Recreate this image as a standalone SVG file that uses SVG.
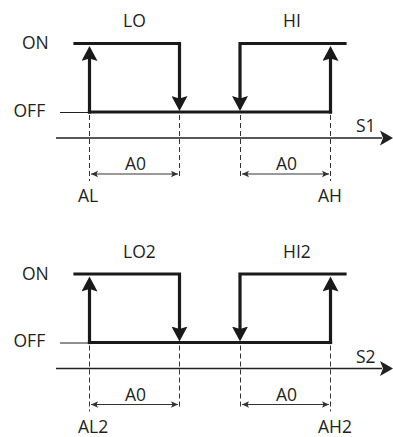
<svg xmlns="http://www.w3.org/2000/svg" width="393" height="437" viewBox="0 0 393 437">
  <style>
    .bg { fill: #ffffff; }
    .lbl { font-family: "Open Sans", "Liberation Sans", sans-serif; font-size: 17.5px; fill: #231f20; }
    .sig { fill: none; stroke: #1a1a1a; stroke-width: 3.2; stroke-linecap: square; stroke-linejoin: miter; }
    .thin { fill: none; stroke: #231f20; stroke-width: 1; }
    .axis { fill: none; stroke: #231f20; stroke-width: 1.5; }
    .dash { fill: none; stroke: #333333; stroke-width: 1; stroke-dasharray: 5 3; }
    .dim { fill: none; stroke: #333333; stroke-width: 1; }
  </style>
  <defs>
    <marker id="bigArrow" markerUnits="userSpaceOnUse" viewBox="0 -8 16 16" markerWidth="16" markerHeight="16" refX="5" refY="0" orient="auto">
      <path d="M0,-8 L15,0 L0,8 L2.5,0 Z" fill="#1a1a1a"/>
    </marker>
    <marker id="axisArrow" markerUnits="userSpaceOnUse" viewBox="0 -8 14 16" markerWidth="14" markerHeight="16" refX="2" refY="0" orient="auto">
      <path d="M0,-7.5 L13,0 L0,7.5 L3,0 Z" fill="#231f20"/>
    </marker>
    <marker id="dimArrow" markerUnits="userSpaceOnUse" viewBox="0 -4 8 8" markerWidth="8" markerHeight="8" refX="7" refY="0" orient="auto-start-reverse">
      <path d="M0,-3.2 L7,0 L0,3.2 L1.5,0 Z" fill="#333333"/>
    </marker>
  </defs>
  <rect class="bg" x="0" y="0" width="393" height="437"/>

  <!-- Chart 1 -->
  <g id="chart1">
    <g id="labels1">
      <text class="lbl" x="22" y="49">ON</text>
      <text class="lbl" x="13.5" y="116.5">OFF</text>
      <text class="lbl" x="123" y="27">LO</text>
      <text class="lbl" x="283" y="27">HI</text>
      <text class="lbl" x="356" y="132">S1</text>
      <text class="lbl" x="125" y="170">A0</text>
      <text class="lbl" x="276" y="170">A0</text>
      <text class="lbl" x="78" y="202">AL</text>
      <text class="lbl" x="318" y="202">AH</text>
    </g>
    <g id="lo1">
      <path class="sig" d="M75,43.5 H179.5 V101"/>
      <path class="sig" d="M89.5,112 V56" marker-end="url(#bigArrow)"/>
    </g>
    <g id="hi1">
      <path class="sig" d="M345,43.5 H240 V101"/>
      <path class="sig" d="M330.5,112 V56" marker-end="url(#bigArrow)"/>
    </g>
    <g id="connectors1">
      <path class="thin" d="M60,112.5 H88"/>
      <path class="sig" d="M89.5,112 H330.5"/>
      <path class="sig" d="M179.5,100 V101" marker-end="url(#bigArrow)"/>
      <path class="sig" d="M240,100 V101" marker-end="url(#bigArrow)"/>
      <path class="axis" d="M56,138 H382" marker-end="url(#axisArrow)"/>
      <path class="dash" d="M89.5,115 V181"/>
      <path class="dash" d="M179.5,115 V179"/>
      <path class="dash" d="M240.5,115 V179"/>
      <path class="dash" d="M330.5,115 V181"/>
      <path class="dim" d="M91,174 H178" marker-start="url(#dimArrow)" marker-end="url(#dimArrow)"/>
      <path class="dim" d="M242,174 H329" marker-start="url(#dimArrow)" marker-end="url(#dimArrow)"/>
    </g>
  </g>

  <!-- Chart 2 -->
  <g id="chart2" transform="translate(0,230.5)">
    <g id="labels2">
      <text class="lbl" x="22" y="49">ON</text>
      <text class="lbl" x="13.5" y="116.5">OFF</text>
      <text class="lbl" x="123" y="27">LO2</text>
      <text class="lbl" x="283" y="27">HI2</text>
      <text class="lbl" x="356" y="132">S2</text>
      <text class="lbl" x="125" y="170">A0</text>
      <text class="lbl" x="276" y="170">A0</text>
      <text class="lbl" x="78" y="202">AL2</text>
      <text class="lbl" x="318" y="202">AH2</text>
    </g>
    <g id="lo2">
      <path class="sig" d="M75,43.5 H179.5 V101"/>
      <path class="sig" d="M89.5,112 V56" marker-end="url(#bigArrow)"/>
    </g>
    <g id="hi2">
      <path class="sig" d="M345,43.5 H240 V101"/>
      <path class="sig" d="M330.5,112 V56" marker-end="url(#bigArrow)"/>
    </g>
    <g id="connectors2">
      <path class="thin" d="M60,112.5 H88"/>
      <path class="sig" d="M89.5,112 H330.5"/>
      <path class="sig" d="M179.5,100 V101" marker-end="url(#bigArrow)"/>
      <path class="sig" d="M240,100 V101" marker-end="url(#bigArrow)"/>
      <path class="axis" d="M56,138 H382" marker-end="url(#axisArrow)"/>
      <path class="dash" d="M89.5,115 V181"/>
      <path class="dash" d="M179.5,115 V179"/>
      <path class="dash" d="M240.5,115 V179"/>
      <path class="dash" d="M330.5,115 V181"/>
      <path class="dim" d="M91,174 H178" marker-start="url(#dimArrow)" marker-end="url(#dimArrow)"/>
      <path class="dim" d="M242,174 H329" marker-start="url(#dimArrow)" marker-end="url(#dimArrow)"/>
    </g>
  </g>
</svg>
